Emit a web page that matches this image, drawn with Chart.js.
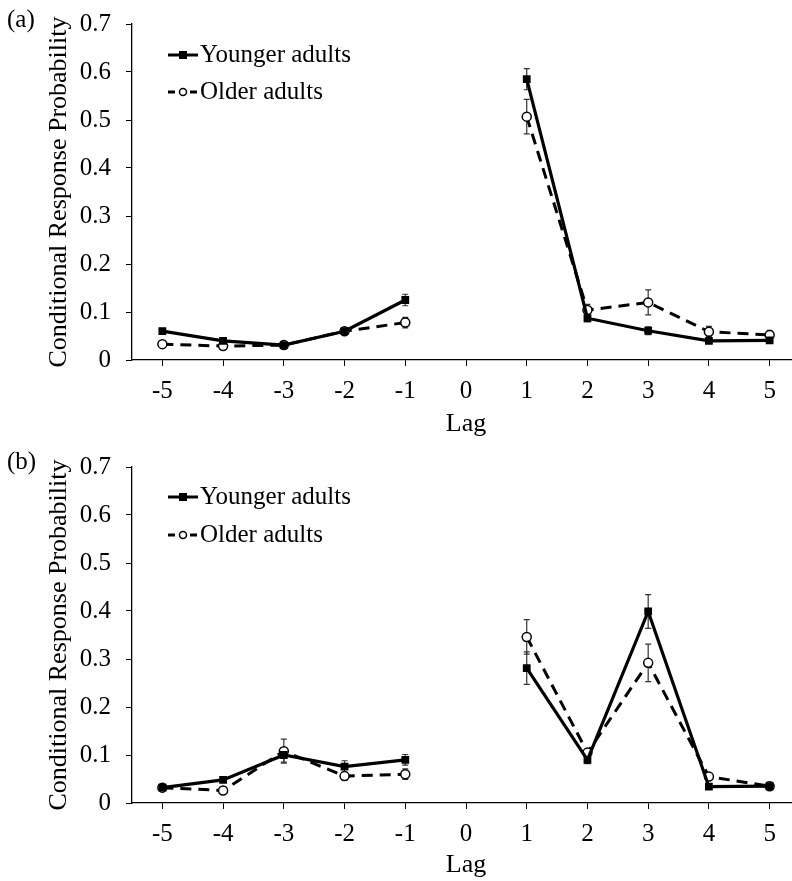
<!DOCTYPE html>
<html>
<head>
<meta charset="utf-8">
<script src="https://cdn.jsdelivr.net/npm/chart.js@4.4.0/dist/chart.umd.min.js"></script>
<style>
  html, body { margin: 0; padding: 0; background: #fff; }
  #wrap { position: relative; width: 792px; height: 881px; overflow: hidden; }
  canvas { position: absolute; left: 0; }
</style>
</head>
<body>
<div id="wrap">
  <canvas id="cA" width="806" height="440" style="top:0px"></canvas>
  <canvas id="cB" width="806" height="441" style="top:440px"></canvas>
</div>
<script>
// ---- Data ----
const lags = ['-5', '-4', '-3', '-2', '-1', '0', '1', '2', '3', '4', '5'];
const yTicks = [0, 0.1, 0.2, 0.3, 0.4, 0.5, 0.6, 0.7];
const seriesNames = ['Younger adults', 'Older adults'];

// Panel (a)
const aYounger = [0.060, 0.040, 0.031, 0.060, 0.125, null, 0.585, 0.087, 0.061, 0.040, 0.041];
const aOlder   = [0.033, 0.029, 0.031, 0.060, 0.078, null, 0.507, 0.104, 0.120, 0.059, 0.052];
const aYoungerErr = [0.005, 0.005, 0.005, 0.005, 0.012, null, 0.022, 0.007, 0.008, 0.005, 0.006];
const aOlderErr   = [0.006, 0.005, 0.008, 0.005, 0.011, null, 0.036, 0.012, 0.026, 0.011, 0.010];

// Panel (b)
const bYounger = [0.032, 0.048, 0.100, 0.076, 0.090, null, 0.281, 0.090, 0.399, 0.034, 0.035];
const bOlder   = [0.032, 0.026, 0.108, 0.056, 0.060, null, 0.346, 0.105, 0.292, 0.055, 0.035];
const bYoungerErr = [0.004, 0.004, 0.015, 0.012, 0.011, null, 0.034, 0.008, 0.035, 0.005, 0.005];
const bOlderErr   = [0.004, 0.004, 0.025, 0.008, 0.011, null, 0.036, 0.008, 0.039, 0.007, 0.008];

const FONT = "'Liberation Serif', 'Times New Roman', serif";

const errorBars = {
  id: 'errorBars',
  beforeDatasetsDraw(chart) {
    const ctx = chart.ctx;
    const y = chart.scales.y;
    ctx.save();
    ctx.strokeStyle = '#333';
    ctx.lineWidth = 1.2;
    chart.data.datasets.forEach((ds, i) => {
      const meta = chart.getDatasetMeta(i);
      meta.data.forEach((pt, j) => {
        const v = ds.data[j], e = ds.errors[j];
        if (v == null || e == null) return;
        const x = pt.x;
        const yt = y.getPixelForValue(v + e);
        const yb = y.getPixelForValue(v - e);
        ctx.beginPath();
        ctx.moveTo(x, yt); ctx.lineTo(x, yb);
        ctx.moveTo(x - 3, yt); ctx.lineTo(x + 3, yt);
        ctx.moveTo(x - 3, yb); ctx.lineTo(x + 3, yb);
        ctx.stroke();
      });
    });
    ctx.restore();
  }
};

function makeDecor(panelLabel, labelY, legendY1, legendY2) {
  return {
    id: 'decor',
    afterDraw(chart) {
      const ctx = chart.ctx;
      ctx.save();
      ctx.fillStyle = '#000';
      ctx.font = '25px ' + FONT;
      ctx.textBaseline = 'middle';
      ctx.textAlign = 'left';
      ctx.fillText(panelLabel, 7, labelY);
      // legend
      const x1 = 168, x2 = 198, xm = 183;
      ctx.strokeStyle = '#000';
      ctx.lineWidth = 3;
      ctx.beginPath(); ctx.moveTo(x1, legendY1); ctx.lineTo(x2, legendY1); ctx.stroke();
      ctx.fillRect(xm - 4, legendY1 - 4, 8, 8);
      ctx.setLineDash([7, 4]);
      ctx.beginPath(); ctx.moveTo(x1, legendY2); ctx.lineTo(x2, legendY2); ctx.stroke();
      ctx.setLineDash([]);
      ctx.fillStyle = '#fff';
      ctx.lineWidth = 1.5;
      ctx.beginPath(); ctx.arc(xm, legendY2, 3.5, 0, Math.PI * 2); ctx.fill(); ctx.stroke();
      ctx.fillStyle = '#000';
      ctx.fillText(seriesNames[0], 200, legendY1);
      ctx.fillText(seriesNames[1], 200, legendY2);
      ctx.restore();
    }
  };
}

function buildChart(id, younger, older, yErr, oErr, topPad, xHeight, decor) {
  return new Chart(document.getElementById(id), {
    type: 'line',
    data: {
      labels: lags,
      datasets: [
        {
          label: seriesNames[0], data: younger, errors: yErr,
          borderColor: '#000', backgroundColor: '#000', borderWidth: 3.2,
          pointStyle: 'rect', pointRadius: 5.5, pointBorderWidth: 0,
          pointBackgroundColor: '#000', spanGaps: false, tension: 0
        },
        {
          label: seriesNames[1], data: older, errors: oErr,
          borderColor: '#000', backgroundColor: '#fff', borderWidth: 3,
          borderDash: [11, 7],
          pointStyle: 'circle', pointRadius: 4.5, pointBorderWidth: 1.5,
          pointBorderColor: '#000', pointBackgroundColor: '#fff', spanGaps: false, tension: 0
        }
      ]
    },
    options: {
      responsive: false,
      animation: false,
      devicePixelRatio: 1,
      layout: { padding: { left: 40, right: 0, top: topPad, bottom: 0 } },
      plugins: { legend: { display: false }, tooltip: { enabled: false } },
      scales: {
        x: {
          type: 'category',
          offset: true,
          grid: { offset: false, drawOnChartArea: false, tickLength: 6, tickColor: '#000', tickWidth: 1 },
          border: { color: '#000', width: 1.3 },
          ticks: { color: '#000', font: { family: FONT, size: 25 }, padding: 10, maxRotation: 0, autoSkip: false },
          title: { display: true, text: 'Lag', color: '#000', font: { family: FONT, size: 26 }, padding: { top: 0, bottom: 0 } },
          afterFit(s) { s.height = xHeight; }
        },
        y: {
          min: 0, max: 0.7,
          afterBuildTicks(s) { s.ticks = yTicks.map(v => ({ value: v })); },
          grid: { drawOnChartArea: false, tickLength: 6, tickColor: '#000', tickWidth: 1 },
          border: { color: '#000', width: 1.3 },
          ticks: {
            color: '#000', font: { family: FONT, size: 25, lineHeight: 0.6 }, padding: 15,
            callback: v => (v === 0 ? '0' : v.toFixed(1))
          },
          title: { display: true, text: 'Conditional Response Probability', color: '#000', font: { family: FONT, size: 26 }, padding: { top: 4, bottom: 0 } },
          afterFit(s) { s.width = 92; }
        }
      }
    },
    plugins: [errorBars, decor]
  });
}

buildChart('cA', aYounger, aOlder, aYoungerErr, aOlderErr, 24, 80, makeDecor('(a)', 20, 55, 92));
buildChart('cB', bYounger, bOlder, bYoungerErr, bOlderErr, 27, 78, makeDecor('(b)', 22, 57, 95));
</script>
</body>
</html>
